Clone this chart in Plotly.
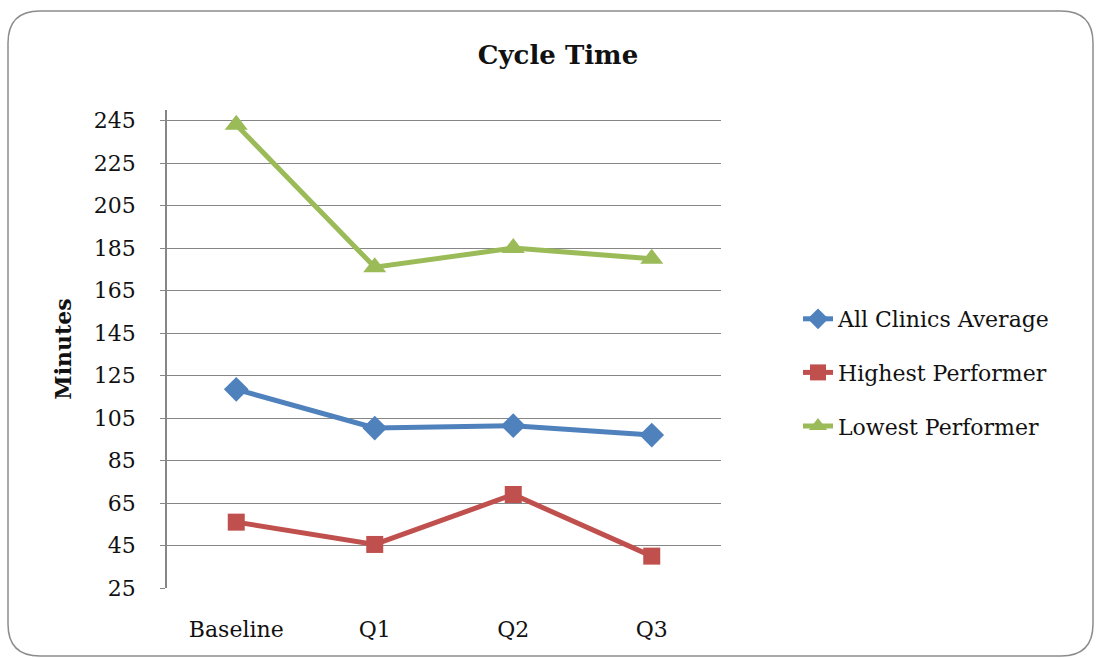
import plotly.graph_objects as go

# Quarterly cycle time data (minutes)
categories = ["Baseline", "Q1", "Q2", "Q3"]
all_clinics_avg = [118.5, 100.3, 101.4, 97]
highest_performer = [56, 45.5, 69, 40]
lowest_performer = [243, 176, 185, 180]
y_ticks = [25, 45, 65, 85, 105, 125, 145, 165, 185, 205, 225, 245]

FONT = "DejaVu Serif"
W, H = 1096, 658
L, R, T, B = 167, 375, 110, 70

fig = go.Figure()

series = [
    ("All Clinics Average", all_clinics_avg, "#4F81BD", "diamond", 19),
    ("Highest Performer", highest_performer, "#C0504D", "square", 17),
    ("Lowest Performer", lowest_performer, "#9BBB59", "triangle-up", 20),
]
for i, (name, vals, color, sym, size) in enumerate(series):
    fig.add_trace(go.Scatter(
        x=categories, y=vals, name=name, mode="lines+markers",
        line=dict(color=color, width=5),
        marker=dict(symbol=sym, size=size, color=color),
        legendgroup=f"g{i}",
    ))


def to_paper(px, py):
    return (px - L) / (W - L - R), (H - B - py) / (H - T - B)


# rounded outer border of the chart area
x0, y0, x1, y1, r = 8, 11, 1093, 656, 32
pts = {
    "a": to_paper(x0 + r, y0), "b": to_paper(x1 - r, y0), "c": to_paper(x1, y0),
    "d": to_paper(x1, y0 + r), "e": to_paper(x1, y1 - r), "f": to_paper(x1, y1),
    "g": to_paper(x1 - r, y1), "h": to_paper(x0 + r, y1), "i": to_paper(x0, y1),
    "j": to_paper(x0, y1 - r), "k": to_paper(x0, y0 + r), "l": to_paper(x0, y0),
}
p = lambda k: f"{pts[k][0]:.5f},{pts[k][1]:.5f}"
path = (f"M {p('a')} L {p('b')} Q {p('c')} {p('d')} L {p('e')} Q {p('f')} {p('g')} "
        f"L {p('h')} Q {p('i')} {p('j')} L {p('k')} Q {p('l')} {p('a')} Z")
fig.add_shape(type="path", path=path, xref="paper", yref="paper",
              line=dict(color="#8C8C8C", width=1.5), layer="below")

fig.update_layout(
    width=W, height=H,
    margin=dict(l=L, r=R, t=T, b=B),
    paper_bgcolor="white", plot_bgcolor="white",
    font=dict(family=FONT, color="#111111", size=22),
    title=dict(text="<b>Cycle Time</b>", x=(558) / W, xanchor="center",
               y=1 - 55 / H, yanchor="middle", font=dict(size=26, family=FONT)),
    showlegend=True,
    legend=dict(x=to_paper(798, 0)[0], xanchor="left",
                y=to_paper(0, 298)[1], yanchor="top",
                font=dict(size=22, family=FONT), tracegroupgap=22,
                traceorder="grouped", bgcolor="rgba(0,0,0,0)"),
    xaxis=dict(
        type="category", range=[-0.5, 3.5], showgrid=False,
        showline=False, ticks="", tickfont=dict(size=22), ticklabelstandoff=26,
    ),
    yaxis=dict(
        range=[25, 250], tickvals=y_ticks, showgrid=True,
        gridcolor="#868686", gridwidth=1, zeroline=False,
        showline=True, linecolor="#868686", linewidth=1.5,
        ticks="outside", ticklen=5, tickcolor="#868686",
        tickfont=dict(size=22), ticklabelstandoff=20,
        title=dict(text="<b>Minutes</b>", font=dict(size=22), standoff=16),
    ),
)

fig.write_html("out.html")
